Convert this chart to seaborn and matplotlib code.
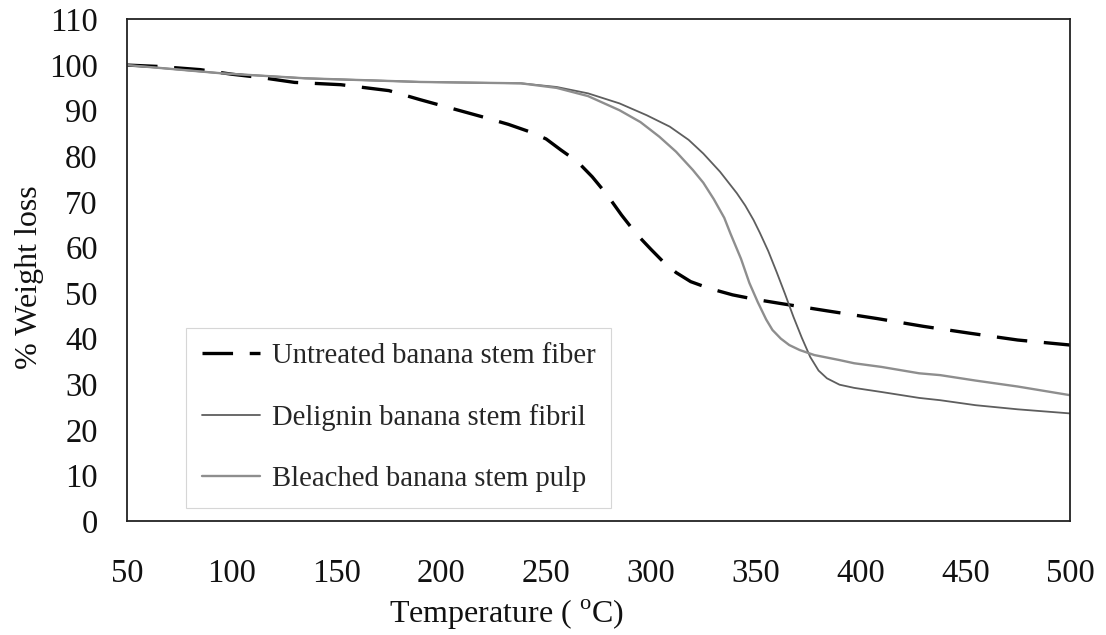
import matplotlib
matplotlib.use("Agg")
import matplotlib.pyplot as plt
import seaborn as sns

# --- data ---
temp_untreated = [50, 65, 85, 100, 115, 130, 152, 175, 190, 205, 220, 232, 242, 250, 257, 265,
                  272, 279, 286, 293, 300, 306, 312, 319, 328, 339, 350, 362, 384, 408, 430, 452,
                  475, 500]
wt_untreated = [100.0, 99.7, 99.0, 98.0, 97.2, 96.2, 95.7, 94.4, 92.4, 90.5, 88.6, 87.0, 85.4,
                83.8, 81.4, 78.8, 75.5, 71.6, 67.1, 63.0, 59.6, 56.8, 54.5, 52.5, 51.0, 49.6,
                48.6, 47.7, 46.1, 44.4, 42.7, 41.2, 39.7, 38.6]

temp_delignin = [50, 75, 95, 135, 190, 238, 255, 270, 285, 298, 309, 318, 325, 333, 341, 345,
                 349, 352, 356, 360, 364, 368, 372, 376, 380, 384, 390, 397, 410, 428, 438, 455,
                 475, 500]
wt_delignin = [100.0, 99.0, 98.2, 97.1, 96.3, 96.0, 95.2, 93.8, 91.6, 89.0, 86.5, 83.6, 80.6,
               76.6, 71.9, 69.2, 66.0, 63.2, 59.2, 54.6, 49.8, 44.8, 40.2, 36.0, 33.0, 31.3,
               29.9, 29.2, 28.3, 27.0, 26.5, 25.4, 24.5, 23.6]

temp_bleached = [50, 75, 95, 135, 190, 238, 255, 270, 285, 295, 304, 312, 320, 325, 330, 335,
                 338, 343, 347, 351, 355, 358, 362, 366, 371, 378, 390, 397, 410, 428, 438, 455,
                 475, 500]
wt_bleached = [100.0, 99.0, 98.2, 97.1, 96.3, 96.0, 95.0, 93.2, 90.1, 87.5, 84.3, 81.0, 77.0,
               74.2, 70.6, 66.5, 63.0, 57.5, 52.2, 48.0, 44.2, 41.9, 40.0, 38.6, 37.5, 36.4,
               35.3, 34.6, 33.8, 32.4, 32.0, 30.8, 29.5, 27.6]

labels = ["Untreated banana stem fiber", "Delignin banana stem fibril", "Bleached banana stem pulp"]
x_ticks = list(range(50, 501, 50))
y_ticks = list(range(0, 111, 10))

# --- style ---
sns.set_theme(style="white")
plt.rcParams["font.family"] = ["Liberation Serif", "DejaVu Serif"]
plt.rcParams["mathtext.fontset"] = "custom"
plt.rcParams["mathtext.rm"] = "Liberation Serif"
plt.rcParams["lines.scale_dashes"] = False

fig, ax = plt.subplots(figsize=(11.06, 6.35), dpi=100)
fig.subplots_adjust(left=0.1148, right=0.9675, top=0.9693, bottom=0.1795)

sns.lineplot(x=temp_untreated, y=wt_untreated, ax=ax, color="black", linewidth=2.4,
             linestyle=(0, (22, 12)), label=labels[0])
sns.lineplot(x=temp_delignin, y=wt_delignin, ax=ax, color="#5e5e5e", linewidth=1.3,
             label=labels[1])
sns.lineplot(x=temp_bleached, y=wt_bleached, ax=ax, color="#8e8e8e", linewidth=1.7,
             label=labels[2])

ax.set_xlim(50, 500)
ax.set_ylim(0, 110)
ax.set_xticks(x_ticks)
ax.set_yticks(y_ticks)
ax.tick_params(axis="both", direction="out", length=6, width=1, color="#bbbbbb",
               labelsize=23.5, labelcolor="#111111")
ax.tick_params(axis="x", pad=21)
ax.tick_params(axis="y", pad=15)

for side in ["left", "bottom", "top", "right"]:
    ax.spines[side].set_color("#222222")
    ax.spines[side].set_linewidth(1.3)

ax.set_ylabel("% Weight loss", fontsize=23, color="#111111")
ax.yaxis.set_label_coords(-0.103, 0.486)
ax.yaxis.label.set_verticalalignment("center")
ax.set_xlabel("Temperature ( $^{\\mathrm{o}}$C)", fontsize=23, color="#111111")
ax.xaxis.set_label_coords(0.403, -0.187)
ax.xaxis.label.set_verticalalignment("center")

leg = ax.legend(loc="lower left", bbox_to_anchor=(0.0626, 0.026), borderaxespad=0,
                fontsize=20.6, frameon=True, fancybox=False, handlelength=2.05,
                handletextpad=0.4, labelspacing=1.22, borderpad=0.55)
leg.get_frame().set_edgecolor("#cccccc")
leg.get_frame().set_linewidth(0.8)

plt.savefig("out.png", dpi=100)
